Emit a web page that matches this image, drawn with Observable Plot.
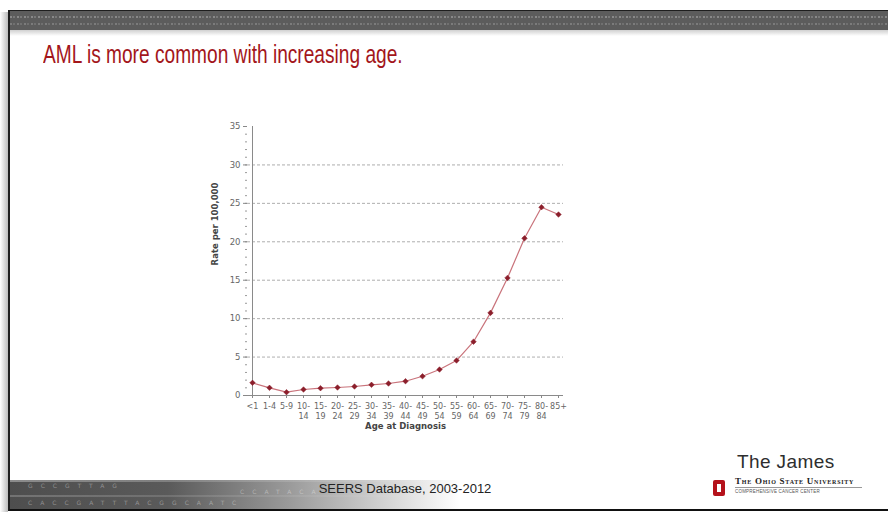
<!DOCTYPE html>
<html><head><meta charset="utf-8">
<script src="https://cdn.jsdelivr.net/npm/d3@7"></script>
<script src="https://cdn.jsdelivr.net/npm/@observablehq/plot@0.6"></script>
<style>
html,body{margin:0;padding:0;background:#fff;}
#page{position:relative;width:888px;height:514px;overflow:hidden;background:#fff;font-family:"Liberation Sans",Arial,sans-serif;}
#page > div{position:absolute;}
#shadowL{left:0;top:12px;width:8px;height:500px;background:linear-gradient(to right,#fff,#bbb);}
#slide{left:8px;top:10px;width:880px;height:501px;border-left:2px solid #1e1e1e;border-top:1px solid #1e1e1e;border-bottom:2px solid #111;background:#fff;box-sizing:border-box;}
#topband{left:10px;top:11px;right:0;height:19px;background:#5c5c5c;}
#topband .row{position:absolute;left:0;right:0;height:2px;background-image:repeating-linear-gradient(to right,rgba(255,255,255,.28) 0 2px,transparent 2px 3px,rgba(255,255,255,.18) 3px 5px,transparent 5px 7px);}
#topshadow{left:10px;right:0;top:30px;height:6px;background:linear-gradient(#d0d0d0,#fff);}
#title{left:43px;top:42px;font-size:25px;line-height:25px;color:#a3161b;white-space:nowrap;transform:scaleX(0.765);transform-origin:0 0;}
#chart{left:195px;top:115px;}
#botband{left:10px;top:480px;width:450px;height:29px;background:linear-gradient(to right,#4e4e4e 0%,#5a5a5a 35%,#9a9a9a 62%,#fff 100%);}
#botband .hl{position:absolute;left:0;right:0;height:2px;background:linear-gradient(to right,rgba(255,255,255,.35),rgba(255,255,255,0));}
#botband .dna{position:absolute;font-size:6px;letter-spacing:8px;color:rgba(255,255,255,.35);white-space:nowrap;font-family:"DejaVu Sans",sans-serif;}
#caption{left:305px;top:481px;width:200px;text-align:center;font-size:13px;color:#222;white-space:nowrap;}
#james{left:737px;top:451px;font-size:19px;letter-spacing:0.4px;color:#2e2e2e;}
#blockO{left:713px;top:480px;width:12px;height:16px;background:#b5121b;border-radius:2px;}
#blockO div{position:absolute;left:4px;top:4px;width:4px;height:8px;background:#fff;}
#osu{left:735px;top:476px;font-family:"Liberation Serif",serif;font-weight:bold;font-variant:small-caps;font-size:9px;letter-spacing:0.75px;color:#222;white-space:nowrap;}
#osuline{left:735px;top:487px;width:127px;height:1px;background:#999;}
#ccc{left:735px;top:489px;font-size:4.5px;letter-spacing:0.2px;color:#555;white-space:nowrap;}
</style></head><body>
<div id="page">
  <div id="shadowL"></div>
  <div id="slide"></div>
  <div id="topband"><div class="row" style="top:5px"></div><div class="row" style="top:12px;opacity:.7"></div></div>
  <div id="topshadow"></div>
  <div id="title">AML is more common with increasing age.</div>
  <div id="chart"></div>
  <div id="botband">
    <div class="hl" style="top:0"></div>
    <div class="hl" style="top:15px;opacity:.6"></div>
    <div class="dna" style="left:18px;top:2px">GCCGTTAG</div>
    <div class="dna" style="left:230px;top:8px">CCATACA</div>
    <div class="dna" style="left:18px;top:19px">CACCGATTTACGGCAATC</div>
  </div>
  <div id="caption">SEERS Database, 2003-2012</div>
  <div id="james">The James</div>
  <div id="blockO"><div></div></div>
  <div id="osu">The Ohio State University</div>
  <div id="osuline"></div>
  <div id="ccc">COMPREHENSIVE CANCER CENTER</div>
</div>
<script>
const ageGroups = ["<1","1-4","5-9","10-14","15-19","20-24","25-29","30-34","35-39","40-44","45-49","50-54","55-59","60-64","65-69","70-74","75-79","80-84","85+"];
const rates = [1.65,1.0,0.43,0.78,0.95,1.04,1.17,1.39,1.56,1.86,2.5,3.38,4.55,7.0,10.75,15.3,20.45,24.5,23.55];
const tickLabels = ["<1","1-4","5-9","10-\n14","15-\n19","20-\n24","25-\n29","30-\n34","35-\n39","40-\n44","45-\n49","50-\n54","55-\n59","60-\n64","65-\n69","70-\n74","75-\n79","80-\n84","85+"];
const yTicks = [0,5,10,15,20,25,30,35];
const yMinorTicks = d3.range(0, 36, 1);
const gridValues = [5,10,15,20,25,30];
const yLabel = "Rate per 100,000";
const xLabel = "Age at Diagnosis";

const data = ageGroups.map((age, i) => ({age, rate: rates[i]}));

const chart = Plot.plot({
  width: 390,
  height: 330,
  marginLeft: 52,
  marginRight: 22,
  marginTop: 11,
  marginBottom: 50,
  style: {fontFamily: "'DejaVu Sans', Verdana, sans-serif", fontSize: "8px", color: "#666", background: "transparent"},
  x: {type: "point", domain: ageGroups, padding: 0},
  y: {domain: [0, 35]},
  marks: [
    Plot.ruleY(gridValues, {stroke: "#999", strokeDasharray: "3,2", strokeWidth: 0.8}),
    Plot.ruleY([0], {stroke: "#8a8a8a"}),
    Plot.ruleX([ageGroups[0]], {y1: 0, y2: 35, stroke: "#8a8a8a"}),
    Plot.axisY({ticks: yMinorTicks, tickSize: 2, tickFormat: () => "", label: null, stroke: "#999"}),
    Plot.axisY({ticks: yTicks, tickSize: 4, tickPadding: 3, label: null, stroke: "#888", fill: "#666", fontSize: 8.5}),
    Plot.axisX({tickSize: 3, tickPadding: 3, lineHeight: 1.3, label: null, stroke: "#888", fill: "#666",
      tickFormat: d => tickLabels[ageGroups.indexOf(d)]}),
    Plot.line(data, {x: "age", y: "rate", stroke: "#c9737b", strokeWidth: 1.2}),
    Plot.dot(data, {x: "age", y: "rate", symbol: "diamond2", r: 2.5, fill: "#8b1e2b", stroke: "#8b1e2b", strokeWidth: 0.5}),
    Plot.text([yLabel], {frameAnchor: "left", textAnchor: "middle", lineAnchor: "middle", rotate: -90, dx: -32, dy: -37, fontWeight: "bold", fill: "#444", fontSize: 8.5}),
    Plot.text([xLabel], {frameAnchor: "bottom", lineAnchor: "middle", dy: 31, fontWeight: "bold", fill: "#444", fontSize: 8.5})
  ]
});
document.getElementById("chart").append(chart);
</script>
</body></html>
